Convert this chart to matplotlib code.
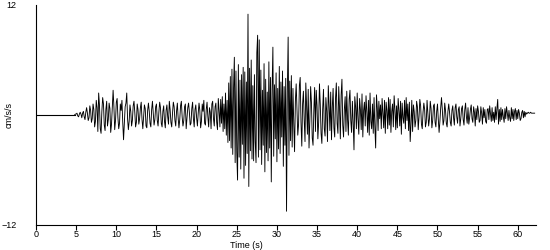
import numpy as np
import matplotlib
matplotlib.use("Agg")
import matplotlib.pyplot as plt

# quiet pre-event part (s, cm/s/s)
t_quiet = [0.0, 4.8]
acc_quiet = [0.0, 0.0]

# record sampled every 0.1 s from 4.8 s, one line per second
t_start = 4.8
dt = 0.1
acc = [
    0.0, 0.1,
    0.1, 0.2, -0.1, -0.2, 0.1, 0.3, 0.1, -0.3, 0.2, 0.4,
    -0.2, -0.5, 0.3, 0.8, 0.2, -0.6, -0.3, 1.0, 0.5, -0.8,
    -0.4, 1.2, 0.6, -1.3, -0.7, 1.6, 0.8, -1.8, 2.4, 1.1,
    -1.5, -2.0, 0.4, 1.9, 1.2, -1.1, -1.7, 0.6, 1.5, -1.2,
    -0.5, 1.3, 0.7, -1.9, -1.0, 0.8, 2.7, 0.9, -1.6, -0.6,
    1.4, 1.8, -0.3, -1.5, -0.9, 1.2, 0.5, 1.6, -0.8, -2.7,
    -1.0, 0.9, 1.3, 2.4, -0.4, -1.6, -0.7, 1.1, 0.4, -1.2,
    -0.6, 1.0, 1.5, 0.3, -1.3, -0.8, 1.2, 0.6, -1.0, -0.4,
    0.8, 1.4, -0.5, -1.5, -0.2, 1.1, 0.7, -1.2, -1.4, 0.5,
    1.3, 0.4, -0.9, -1.3, 0.6, 1.5, 0.2, -1.1, -0.5, 0.9,
    1.2, -0.6, -1.2, 0.3, 1.4, 0.8, -0.9, -1.3, 0.4, 1.0,
    -0.7, -1.4, 0.5, 1.1, -0.2, -1.0, 1.5, 0.6, -0.8, -1.3,
    0.2, 1.4, 0.9, -0.6, -1.2, 0.4, 1.3, -0.3, -1.4, -0.5,
    1.0, 1.5, -0.2, -1.2, -0.6, 0.9, 1.2, -1.5, -0.4, 0.8,
    1.3, 0.3, -1.1, -0.9, 0.7, 1.4, -0.4, -1.3, 0.6, 1.1,
    -0.3, -1.2, 0.2, 1.3, 0.5, -1.4, -0.7, 1.2, 0.4, 1.6,
    -0.9, -1.1, 0.6, 1.4, -0.2, -1.3, 0.8, 0.3, -1.5, 1.2,
    1.5, -0.4, -1.2, 0.9, 1.3, -0.8, -1.6, 1.8, 0.5, -1.3,
    1.7, -0.9, 2.0, -1.8, 1.2, -1.5, 2.4, -2.2, 1.6, -3.0,
    3.5, -2.8, 4.2, -3.6, 5.0, -4.3, 2.9, 6.3, -5.2, 4.8,
    -4.1, -7.1, 5.5, -4.6, 3.8, -5.9, 4.4, -3.2, 5.2, -6.9,
    4.7, -5.5, 3.6, -4.2, 11.0, -7.8, 5.1, -3.9, 6.0, -4.8,
    3.2, -5.0, 4.4, -2.9, -5.2, 6.8, 8.7, -4.6, 8.2, -3.8,
    4.9, -5.4, 2.7, -3.3, 5.6, -6.2, 3.9, -4.1, 2.5, -5.0,
    5.8, -3.6, 4.1, -7.3, 2.8, 7.4, -4.5, 3.3, -2.6, 4.6,
    -5.1, 2.9, -3.7, 5.3, -4.2, 3.6, -2.4, 4.8, -5.6, 3.1,
    -3.3, 4.0, -10.5, 2.6, 8.5, -4.4, 3.7, -2.8, 4.3, -3.5,
    2.9, -1.0, -4.0, 1.5, 3.4, 0.6, -2.2, -1.0, 3.2, 4.1,
    -0.8, -3.4, 1.2, 2.6, -0.5, -2.9, 3.5, 0.9, -2.1, 2.8,
    -3.6, -0.7, 3.1, 1.4, -2.5, -3.3, 0.5, 3.0, -1.8, 2.7,
    1.0, -2.6, -0.8, 3.4, 1.2, -2.0, -3.1, 0.6, 2.8, -1.5,
    -2.3, 1.9, 0.4, -2.9, 3.2, 1.1, -1.7, 2.5, -2.7, 0.8,
    2.9, -1.4, -2.4, 1.8, 3.5, -0.9, -2.0, 3.1, 0.7, -2.6,
    2.2, 3.9, -1.1, -2.4, 0.6, 2.0, -1.8, 2.6, -0.5, -2.2,
    1.7, 2.7, -0.6, -1.9, 1.5, -0.8, -3.8, 2.0, 0.9, -1.5,
    2.4, -0.4, -2.1, 1.8, 0.6, -1.6, 2.3, -2.4, 0.5, 1.4,
    -1.2, 2.1, 0.3, -1.9, 1.6, -2.2, 2.4, -0.7, -1.5, 1.2,
    -2.0, 1.9, -1.3, -3.6, 2.2, 0.8, -1.7, 1.5, -0.4, 1.1,
    -1.5, 1.8, 0.2, -1.4, 1.6, -2.0, 1.4, 0.5, -1.5, 1.9,
    -1.1, 1.7, -1.9, 0.4, 1.2, -1.3, 2.1, 0.6, -1.6, 1.0,
    -1.4, 1.8, 0.5, -1.2, 1.5, -2.1, 1.3, -0.3, -0.9, 1.6,
    -1.5, 1.9, -0.6, 1.2, -1.7, 1.4, -2.9, -1.0, 1.6, -1.8,
    1.1, 0.4, -1.3, -0.6, 1.5, 0.9, -1.6, -0.2, 1.7, 1.0,
    -1.0, -1.5, 0.3, 1.3, 0.6, -1.3, -0.8, 1.6, 0.2, -1.2,
    -0.4, 1.5, 0.7, -1.4, -0.6, 1.0, 1.2, -0.8, -1.3, 0.4,
    1.2, -0.5, -1.9, -0.7, 0.8, 1.9, 0.6, -1.1, -0.6, 1.3,
    0.5, -0.9, -1.3, 0.4, 1.2, 0.3, -0.8, -1.2, 0.5, 1.0,
    -0.3, -1.1, 0.8, 1.2, -0.2, -0.9, 0.6, 0.9, -1.2, -0.4,
    0.7, 1.0, -0.5, -1.1, 0.6, 1.3, -0.2, -0.9, 0.8, -1.0,
    -0.3, 0.6, 1.1, -0.4, -0.8, 0.9, 0.3, -1.2, 0.7, -0.5,
    1.0, 0.4, -0.8, -0.6, 0.9, 0.2, -1.0, 0.8, -0.3, 0.6,
    -0.7, -0.9, 0.6, 0.7, -0.5, 1.0, 0.1, -0.7, 0.8, -0.6,
    0.3, -0.8, 0.9, -0.5, 0.7, 1.7, -1.0, 0.6, -0.7, 0.8,
    -0.5, 0.6, -0.2, -0.8, 0.7, -0.4, 0.9, 0.2, -0.6, 0.5,
    -0.3, -0.7, 0.8, -0.4, 0.6, -0.6, 0.4, 0.7, -0.5, 0.5,
    -0.4, 0.6, 0.2, -0.6, -0.4, 0.3, 0.5, -0.3, 0.4, -0.2,
    0.3, 0.1, 0.2, 0.3, 0.2, 0.2, 0.3, 0.2, 0.2, 0.2,
    0.2, 0.2,
]
t_rec = t_start + dt*np.arange(len(acc))

x_ticks = [0, 5, 10, 15, 20, 25, 30, 35, 40, 45, 50, 55, 60]
y_ticks = [-12, 12]

plt.rcParams['font.family'] = ['Liberation Sans', 'DejaVu Sans']

fig = plt.figure(figsize=(5.5, 2.5), dpi=100)
ax = fig.add_axes([0.0655, 0.1, 0.9095, 0.88])
ax.plot(t_quiet, acc_quiet, color='black', linewidth=0.8)
ax.plot(t_rec, acc, color='black', linewidth=0.65)

ax.set_xlim(0, 62.3)
ax.set_ylim(-12, 12)
ax.set_xticks(x_ticks)
ax.set_yticks(y_ticks)
ax.tick_params(axis='x', direction='out', length=3.5, width=0.8,
               labelsize=6.5, pad=0)
ax.tick_params(axis='y', length=0, labelsize=6.5, pad=14)
for s in ['top', 'right']:
    ax.spines[s].set_visible(False)
ax.spines['left'].set_linewidth(0.8)
ax.spines['bottom'].set_linewidth(0.8)

ax.set_xlabel("Time (s)", fontsize=6.5, va='bottom')
ax.xaxis.set_label_coords(0.42, -0.112)
ax.set_ylabel("cm/s/s", fontsize=6.5)
ax.yaxis.set_label_coords(-0.045, 0.5)

plt.savefig("out.png", dpi=100)
